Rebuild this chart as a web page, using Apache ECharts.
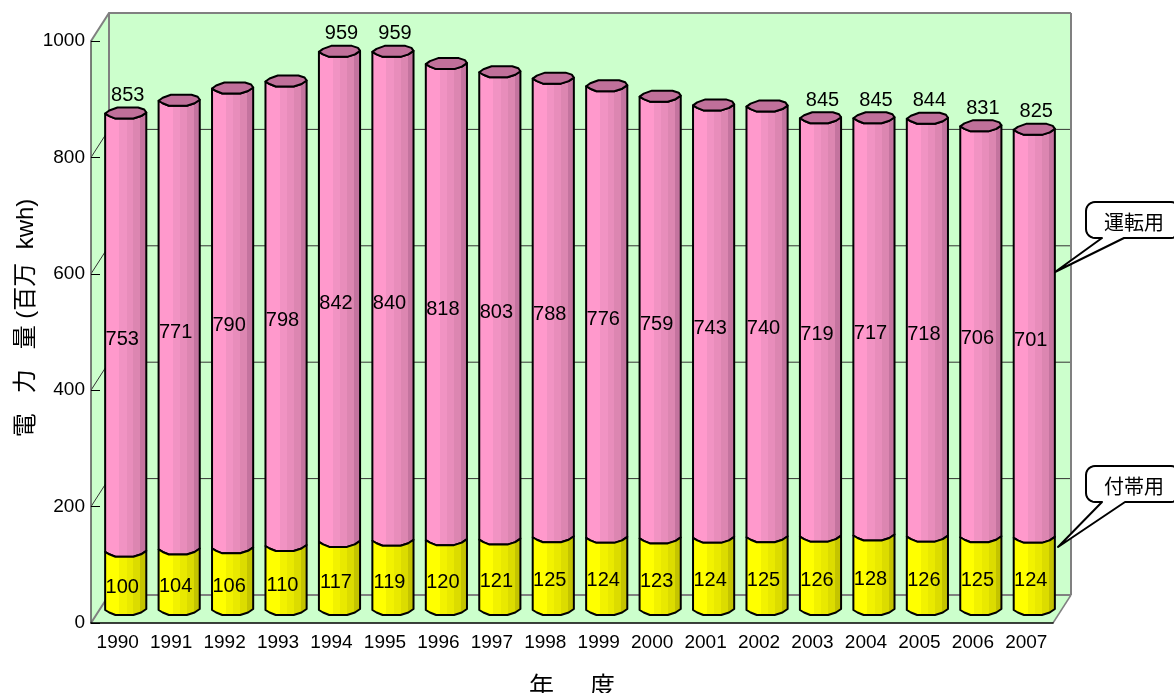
<!DOCTYPE html>
<html>
<head>
<meta charset="utf-8">
<style>html,body{margin:0;padding:0;background:#fff;overflow:hidden}</style>
<script src="https://cdn.jsdelivr.net/npm/echarts@6/dist/echarts.min.js"></script>
</head>
<body>
<div id="main" style="width:1174px;height:693px"></div>
<script>
var categories = ['1990','1991','1992','1993','1994','1995','1996','1997','1998','1999','2000','2001','2002','2003','2004','2005','2006','2007'];
// 付帯用
var auxValues = [100,104,106,110,117,119,120,121,125,124,123,124,125,126,128,126,125,124];
// 運転用
var runValues = [753,771,790,798,842,840,818,803,788,776,759,743,740,719,717,718,706,701];
// only some of the totals are printed in the original
var totalLabels = [853,null,null,null,959,959,null,null,null,null,null,null,null,845,845,844,831,825];
var yTicks = [0,200,400,600,800,1000];

var FONT = '"Liberation Sans","Noto Sans CJK JP",sans-serif';
var WALL_DX = 18, WALL_DY = -28;   // depth of the fake 3d box
var BAR_DX = 8, BAR_DY = -13;      // bars stand in the middle of the floor

function bands(stops) {
  var list = [];
  stops.forEach(function (s, i) {
    var next = i < stops.length - 1 ? stops[i + 1][0] : 1;
    list.push({offset: s[0], color: s[1]});
    list.push({offset: next, color: s[1]});
  });
  return new echarts.graphic.LinearGradient(0, 0, 1, 0, list);
}
var pinkFill = bands([[0,'#FF99CC'],[0.35,'#F193C3'],[0.52,'#E88DBB'],[0.68,'#DC86B1'],[0.84,'#C4749F']]);
var yellowFill = bands([[0,'#FFFF00'],[0.35,'#F2F200'],[0.52,'#E9E900'],[0.68,'#DCDC00'],[0.84,'#C4C400']]);

// front edge of the cylinder at a given centre
function frontEdge(cx, cy, hw) {
  return [[cx - hw, cy], [cx - hw * 0.8, cy + 2.5], [cx - hw * 0.5, cy + 5], [cx + hw * 0.37, cy + 5], [cx + hw * 0.75, cy + 2.5], [cx + hw, cy - 1]];
}
function backEdge(cx, cy, hw) {
  return [[cx + hw, cy - 1], [cx + hw * 0.9, cy - 4], [cx + hw * 0.6, cy - 6], [cx - hw * 0.4, cy - 6], [cx - hw * 0.8, cy - 3]];
}
function body(cx, yTop, yBottom, hw, fill) {
  var pts = frontEdge(cx, yBottom, hw).concat(frontEdge(cx, yTop, hw).reverse());
  return {type: 'polygon', shape: {points: pts}, style: {fill: fill, stroke: '#000', lineWidth: 2, lineJoin: 'round'}};
}
function label(text, x, y) {
  return {type: 'text', style: {text: String(text), x: x, y: y, align: 'center', verticalAlign: 'middle', font: '20px ' + FONT, fill: '#000'}};
}

function renderWalls(params, api) {
  var c = params.coordSys;
  var l = c.x, r = c.x + c.width, t = c.y, b = c.y + c.height;
  var kids = [];
  var green = {fill: '#CCFFCC', stroke: null};
  kids.push({type: 'polygon', shape: {points: [[l + WALL_DX, t + WALL_DY], [r + WALL_DX, t + WALL_DY], [r + WALL_DX, b + WALL_DY], [l + WALL_DX, b + WALL_DY]]}, style: green});
  kids.push({type: 'polygon', shape: {points: [[l, t], [l + WALL_DX, t + WALL_DY], [l + WALL_DX, b + WALL_DY], [l, b]]}, style: green});
  kids.push({type: 'polygon', shape: {points: [[l, b], [r, b], [r + WALL_DX, b + WALL_DY], [l + WALL_DX, b + WALL_DY]]}, style: green});
  yTicks.forEach(function (v) {
    var y = api.coord([0, v])[1];
    var edge = v === 0 || v === 1000;
    var col = edge ? '#808080' : '#333333';
    var w = edge ? 2 : 1;
    kids.push({type: 'polyline', shape: {points: [[l, y], [l + WALL_DX, y + WALL_DY], [r + WALL_DX, y + WALL_DY]]}, style: {fill: null, stroke: col, lineWidth: w}});
  });
  kids.push({type: 'line', shape: {x1: l + WALL_DX, y1: t + WALL_DY, x2: l + WALL_DX, y2: b + WALL_DY}, style: {stroke: '#808080', lineWidth: 2}});
  kids.push({type: 'line', shape: {x1: r + WALL_DX, y1: t + WALL_DY, x2: r + WALL_DX, y2: b + WALL_DY}, style: {stroke: '#808080', lineWidth: 2}});
  kids.push({type: 'line', shape: {x1: r, y1: b, x2: r + WALL_DX, y2: b + WALL_DY}, style: {stroke: '#808080', lineWidth: 1.5}});
  return {type: 'group', children: kids};
}

function renderBar(params, api) {
  var i = api.value(0), aux = api.value(1), run = api.value(2);
  var base = api.coord([i, 0]);
  var mid = api.coord([i, aux]);
  var top = api.coord([i, aux + run]);
  var hw = api.size([1, 0])[0] * 0.385;
  var cx = base[0] + BAR_DX;
  var y0 = base[1] + BAR_DY, y1 = mid[1] + BAR_DY, y2 = top[1] + BAR_DY;
  var cap = frontEdge(cx, y2, hw).concat(backEdge(cx, y2, hw));
  var kids = [
    body(cx, y2, y1, hw, pinkFill),
    body(cx, y1, y0, hw, yellowFill),
    {type: 'polygon', shape: {points: cap}, style: {fill: '#C0709A', stroke: '#000', lineWidth: 2, lineJoin: 'round'}},
    label(aux, base[0] + 4.5, api.coord([i, aux / 2])[1] - 6),
    label(run, base[0] + 4.5, api.coord([i, aux + run / 2])[1] - 6)
  ];
  if (totalLabels[params.dataIndex] != null) {
    kids.push(label(totalLabels[params.dataIndex], base[0] + 10, top[1] - 31));
  }
  return {type: 'group', children: kids};
}

// rounded speech box, runs off the right edge of the page
function callout(text, left, top, bottom, right, tail) {
  var rad = 9, pts = [];
  function corner(cx, cy, from) {
    for (var k = 0; k <= 6; k++) {
      var a = (from + k * 15) * Math.PI / 180;
      pts.push([cx + rad * Math.cos(a), cy + rad * Math.sin(a)]);
    }
  }
  corner(left + rad, top + rad, 180);
  corner(right - rad, top + rad, 270);
  corner(right - rad, bottom - rad, 0);
  pts.push(tail[2], tail[1], tail[0]);
  corner(left + rad, bottom - rad, 90);
  return [
    {type: 'polygon', z: 20, shape: {points: pts}, style: {fill: '#fff', stroke: '#000', lineWidth: 2, lineJoin: 'round'}},
    {type: 'text', z: 21, x: (left + right) / 2 + 1, y: (top + bottom) / 2 + 2, style: {text: text, align: 'center', verticalAlign: 'middle', font: '20px "Noto Sans CJK JP",sans-serif', fill: '#000'}}
  ];
}

var yTitle = {type: 'text', z: 10, x: 26, y: 318, rotation: Math.PI / 2,
  style: {text: '電   力   量 (百万  kwh)', align: 'center', verticalAlign: 'middle', font: '24px ' + FONT, fill: '#000'}};

var option = {
  backgroundColor: '#fff',
  animation: false,
  grid: {left: 91, right: 121, top: 41, bottom: 70, outerBoundsMode: 'none'},
  xAxis: {
    type: 'category',
    data: categories,
    name: '年 \u3000 度',
    nameLocation: 'middle',
    nameGap: 50,
    nameTextStyle: {fontSize: 25, color: '#000', fontFamily: '"Noto Sans CJK JP",sans-serif'},
    z: 3,
    axisLine: {lineStyle: {color: '#000', width: 1.5}},
    axisTick: {inside: true, length: 10, alignWithLabel: false, lineStyle: {color: '#222', width: 1}},
    axisLabel: {fontSize: 19, color: '#000', fontFamily: FONT, margin: 10, interval: 0}
  },
  yAxis: {
    type: 'value',
    min: 0,
    max: 1000,
    interval: 200,
    z: 3,
    splitLine: {show: false},
    axisLine: {show: true, lineStyle: {color: '#555', width: 1.5}},
    axisTick: {show: true, inside: true, length: 9, lineStyle: {color: '#000', width: 1}},
    axisLabel: {fontSize: 19, color: '#000', fontFamily: FONT, margin: 6, formatter: function (v) { return String(v); }}
  },
  graphic: {elements: [yTitle]
    .concat(callout('運転用', 1086, 202, 238, 1180, [[1102, 238], [1055, 272], [1124, 238]]))
    .concat(callout('付帯用', 1086, 466, 502, 1180, [[1102, 502], [1058, 547], [1125, 502]]))},
  series: [
    {type: 'custom', z: 1, silent: true, renderItem: renderWalls, data: [[0, 0]], encode: {x: 0, y: 1}},
    {type: 'custom', z: 5, renderItem: renderBar, encode: {x: 0, y: 1},
      data: categories.map(function (c, i) { return [i, auxValues[i], runValues[i]]; })}
  ]
};

var chart = echarts.init(document.getElementById('main'));
chart.setOption(option);
</script>
</body>
</html>
